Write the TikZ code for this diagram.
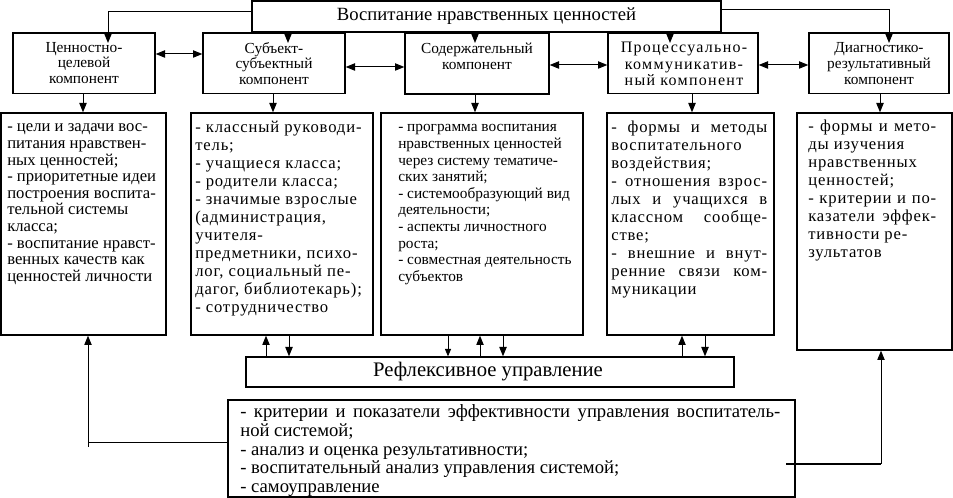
\documentclass[tikz,border=0pt]{standalone}
\usepackage{fontspec}
\setmainfont{Liberation Serif}
\newfontfamily\lsfont[LetterSpace=5]{Liberation Serif}
\newfontfamily\lsbfont[LetterSpace=8]{Liberation Serif}
\usetikzlibrary{arrows.meta,calc,fit}
\newcommand\fsz[2]{\fontsize{#1pt}{#2pt}\selectfont}
\newcommand\jl[2]{\makebox[#1pt][s]{#2}}
\begin{document}
\begin{tikzpicture}[x=0.75pt,y=-0.75pt,
  bx/.style={draw, line width=1pt, inner sep=0pt},
  txt/.style={inner sep=0pt, anchor=base west},
  lab/.style={inner sep=0pt, align=center, font=\fsz{11.5}{11.8}},
  arr/.style={line width=0.75pt, -{Triangle[length=7pt,width=5.5pt]}},
  sarr/.style={line width=0.6pt, -{Triangle[length=5.5pt,width=4.5pt]}},
  darr/.style={line width=0.75pt, {Triangle[length=7pt,width=5.5pt]}-{Triangle[length=7pt,width=5.5pt]}},
  ln/.style={line width=0.75pt}]
\useasboundingbox (0,0) rectangle (953,498);

% title
\node[bx, fit={(252,1) (721,32)}] (top) {};
\node[inner sep=0pt, font=\fsz{14}{16}] (topt) at (486.5,16.5) {Воспитание нравственных ценностей};

% row 1
\node[bx, fit={(13,33) (155,93.5)}] (b1) {};
\node[lab] (b1t) at (84,63) {Ценностно-\\целевой\\компонент};
\node[bx, fit={(203,33) (345,93.5)}] (b2) {};
\node[lab] (b2t) at (274,63.5) {Субъект-\\субъектный\\компонент};
\node[bx, fit={(405,33) (549,94)}] (b3) {};
\node[lab] (b3t) at (477,56) {Содержательный\\компонент};
\node[bx, fit={(608,33) (758,93.5)}] (b4) {};
\node[lab, font=\lsbfont\fsz{12}{12.2}] (b4t) at (684,64) {Процессуально-\\коммуникатив-\\ный компонент};
\node[bx, fit={(809,33) (949,93.5)}] (b5) {};
\node[lab] (b5t) at (879,63.5) {Диагностико-\\результативный\\компонент};

% row 2
\node[bx, fit={(1,113) (166,335)}] (r1) {};
\node[bx, fit={(191,113) (373,335)}] (r2) {};
\node[bx, fit={(381,113) (583,335)}] (r3) {};
\node[bx, fit={(607,113) (774,335)}] (r4) {};
\node[bx, fit={(797,113) (952,350)}] (r5) {};

\node[txt] (r1t) at (7,132) {\parbox[t]{220pt}{\fsz{12.5}{12.45}%
- цели и задачи вос-\\
питания нравствен-\\
ных ценностей;\\
- приоритетные идеи\\
построения воспита-\\
тельной системы\\
класса;\\
- воспитание нравст-\\
венных качеств как\\
ценностей личности}};

\node[txt] (r2t) at (195,133) {\parbox[t]{220pt}{\lsfont\fsz{12.5}{13.45}%
- классный руководи-\\
тель;\\
- учащиеся класса;\\
- родители класса;\\
- значимые взрослые\\
(администрация,\\
учителя-\\
предметники, психо-\\
лог, социальный пе-\\
дагог, библиотекарь);\\
- сотрудничество}};

\node[txt] (r3t) at (398,132) {\parbox[t]{240pt}{\fsz{11.5}{12.45}%
- программа воспитания\\
нравственных ценностей\\
через систему тематиче-\\
ских занятий;\\
- системообразующий вид\\
деятельности;\\
- аспекты личностного\\
роста;\\
- совместная деятельность\\
субъектов}};

\node[txt] (r4t) at (611,133) {\parbox[t]{220pt}{\lsfont\fsz{12.5}{13.5}%
\jl{117}{- формы и методы}\\
воспитательного\\
воздействия;\\
\jl{117}{- отношения взрос-}\\
\jl{117}{лых и учащихся в}\\
\jl{117}{классном сообще-}\\
стве;\\
\jl{117}{- внешние и внут-}\\
\jl{117}{ренние связи ком-}\\
муникации}};

\node[txt] (r5t) at (808,132) {\parbox[t]{200pt}{\lsfont\fsz{12.5}{13.5}%
\jl{96}{- формы и мето-}\\
ды изучения\\
нравственных\\
ценностей;\\
\jl{96}{- критерии и по-}\\
\jl{96}{казатели эффек-}\\
тивности ре-\\
зультатов}};

% reflexive management
\node[bx, fit={(246,357) (734,387)}] (refl) {};
\node[inner sep=0pt, font=\fsz{15.5}{16}] (reflt) at (488,372) {Рефлексивное управление};

% bottom box
\node[bx, fit={(228,400) (795,497)}] (bot) {};
\node[txt] (bt) at (240,418) {\parbox[t]{520pt}{\fsz{14}{13.9}%
\jl{405}{- критерии и показатели эффективности управления воспитатель-}\\
ной системой;\\
- анализ и оценка результативности;\\
- воспитательный анализ управления системой;\\
- самоуправление}};

% coordinates
\coordinate (k1) at (108,43);
\coordinate (k2) at (288,43);
\coordinate (k3) at (475,43);
\coordinate (k4) at (670,43);
\coordinate (k5) at (889,43);
\coordinate (d1) at (83,0);
\coordinate (d2) at (273,0);
\coordinate (d3) at (475,0);
\coordinate (d4) at (692,0);
\coordinate (d5) at (880,0);
\coordinate (h1) at (0,54);
\coordinate (h2) at (0,67);
\coordinate (h3) at (0,65);
\coordinate (h4) at (0,65);
\coordinate (u1) at (266,0);
\coordinate (u2) at (289,0);
\coordinate (u3) at (448,0);
\coordinate (u4) at (480,0);
\coordinate (u5) at (503,0);
\coordinate (u6) at (682,0);
\coordinate (u7) at (705,0);
\coordinate (yl) at (0,443);
\coordinate (fl) at (88,447);
\coordinate (fr) at (786,464);
\coordinate (xr) at (881,0);

% top connectors
\draw[arr] ($(top.north west)+(0,11)$) -| (k1);
\draw[arr] ($(top.north east)+(0,9)$) -| (k5);
\draw[arr] (top.south -| k2) -- (k2);
\draw[arr] (top.south -| k3) -- (k3);
\draw[arr] (top.south -| k4) -- (k4);

% row1 to row2
\draw[arr] (b1.south -| d1) -- (r1.north -| d1);
\draw[arr] (b2.south -| d2) -- (r2.north -| d2);
\draw[arr] (b3.south -| d3) -- (r3.north -| d3);
\draw[arr] (b4.south -| d4) -- (r4.north -| d4);
\draw[arr] (b5.south -| d5) -- (r5.north -| d5);

% horizontal double arrows
\draw[darr] (b1.east |- h1) -- (b2.west |- h1);
\draw[darr] (b2.east |- h2) -- (b3.west |- h2);
\draw[darr] (b3.east |- h3) -- (b4.west |- h3);
\draw[darr] (b4.east |- h4) -- (b5.west |- h4);

% reflexive arrows
\draw[arr] (refl.north -| u1) -- (r2.south -| u1);
\draw[arr] (r2.south -| u2) -- (refl.north -| u2);
\draw[sarr] (r3.south -| u3) -- (refl.north -| u3);
\draw[arr] (refl.north -| u4) -- (r3.south -| u4);
\draw[arr] (r3.south -| u5) -- (refl.north -| u5);
\draw[arr] (refl.north -| u6) -- (r4.south -| u6);
\draw[arr] (r4.south -| u7) -- (refl.north -| u7);

% feedback lines
\draw[ln] (bot.west |- yl) -| (fl);
\draw[arr] (fl) -- (r1.south -| fl);
\draw[line width=1.3pt] (fr) -- (fr -| xr);
\draw[arr] (fr -| xr) -- (r5.south -| xr);
\end{tikzpicture}
\end{document}
